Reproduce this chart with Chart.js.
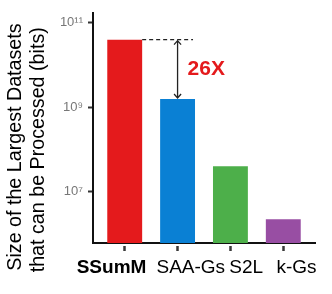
<!DOCTYPE html>
<html lang="en">
<head>
  <meta charset="UTF-8">
  <title>Largest datasets</title>
  <style>
    html, body { margin: 0; padding: 0; background: #fff; }
    .wrap { width: 332px; height: 294px; }
  </style>
</head>
<body>
  <div class="wrap"><canvas id="chart"></canvas></div>

  <script src="https://cdn.jsdelivr.net/npm/chart.js"></script>
  <script>
    // data (bits, log scale)
    const methods = ["SSumM", "SAA-Gs", "S2L", "k-Gs"];
    const sizes = [3.98e10, 1.55e9, 3.9e7, 2.17e6];
    const barColors = ["#e41a1c", "#0a80d4", "#4daf4a", "#984ea3"];
    const yTicks = [1e7, 1e9, 1e11];
    const yTickLabels = ["10\u2077", "10\u2079", "10\u00b9\u00b9"];

    const font = "'Liberation Sans', Arial, sans-serif";
    // the labels sit a little off their ticks in the original so they don't collide
    const pad = n => " ".repeat(n);
    const xLabels = [methods[0] + pad(5), pad(5) + methods[1], pad(6) + methods[2], pad(5) + methods[3]];

    // dashed line + arrow + ratio label between the first two bars
    const gapNote = {
      id: "gapNote",
      afterDatasetsDraw(chart) {
        const bars = chart.getDatasetMeta(0).data;
        const a = bars[0], b = bars[1];
        const ctx = chart.ctx;
        ctx.save();
        ctx.strokeStyle = "#222";
        ctx.lineWidth = 1.3;
        ctx.setLineDash([4, 3]);
        ctx.beginPath();
        ctx.moveTo(a.x + a.width / 2, a.y);
        ctx.lineTo(b.x + b.width / 2 - 2, a.y);
        ctx.stroke();
        ctx.setLineDash([]);
        ctx.beginPath();
        ctx.moveTo(b.x, a.y + 1);
        ctx.lineTo(b.x, b.y - 1);
        // heads
        ctx.moveTo(b.x - 3.5, a.y + 5); ctx.lineTo(b.x, a.y + 1); ctx.lineTo(b.x + 3.5, a.y + 5);
        ctx.moveTo(b.x - 3.5, b.y - 5); ctx.lineTo(b.x, b.y - 1); ctx.lineTo(b.x + 3.5, b.y - 5);
        ctx.stroke();
        ctx.fillStyle = "#e41a1c";
        ctx.font = "bold 21px " + font;
        ctx.textAlign = "left";
        ctx.textBaseline = "middle";
        ctx.fillText(Math.round(sizes[0] / sizes[1]) + "X", b.x + 10, (a.y + b.y) / 2);
        ctx.restore();
      }
    };

    new Chart(document.getElementById("chart"), {
      type: "bar",
      data: {
        datasets: [{
          data: methods.map((m, i) => ({ x: i, y: sizes[i] })),
          backgroundColor: barColors,
          barPercentage: 0.66,
          categoryPercentage: 1
        }]
      },
      options: {
        responsive: true,
        maintainAspectRatio: false,
        animation: false,
        layout: { padding: { top: 12, right: 17, left: 0, bottom: 0 } },
        plugins: { legend: { display: false }, tooltip: { enabled: false } },
        scales: {
          x: {
            type: "linear",
            min: -0.6,
            max: 3.6,
            offset: false,
            afterBuildTicks: s => { s.ticks = methods.map((m, i) => ({ value: i })); },
            afterFit: s => { s.height = 51; },
            border: { color: "#111", width: 2 },
            grid: {
              offset: false,
              drawOnChartArea: false,
              tickLength: 8,
              tickColor: "#3a3a3a",
              tickWidth: 2.5,
              tickBorderDash: [0, 2, 6]
            },
            ticks: {
              padding: 5,
              color: "#000",
              maxRotation: 0,
              autoSkip: false,
              callback: v => xLabels[v],
              font: c => ({ family: font, size: 19, weight: c.index === 0 ? "bold" : "normal" })
            }
          },
          y: {
            type: "logarithmic",
            min: 5.9e5,
            max: 1.73e11,
            afterBuildTicks: s => { s.ticks = yTicks.map(v => ({ value: v })); },
            afterFit: s => { s.width = 93; },
            border: { color: "#111", width: 2 },
            grid: {
              drawOnChartArea: false,
              tickLength: 5,
              tickColor: "#333",
              tickWidth: 2
            },
            ticks: {
              padding: 5,
              color: "#777",
              font: { family: font, size: 13 },
              callback: v => yTickLabels[yTicks.indexOf(v)]
            },
            title: {
              display: true,
              text: ["Size of the Largest Datasets" + pad(7), "that can be Processed (bits)" + pad(8)],
              color: "#000",
              font: { family: font, size: 19.7, lineHeight: 1.17 },
              padding: { top: 4, bottom: 0 }
            }
          }
        }
      },
      plugins: [gapNote]
    });
  </script>
</body>
</html>
